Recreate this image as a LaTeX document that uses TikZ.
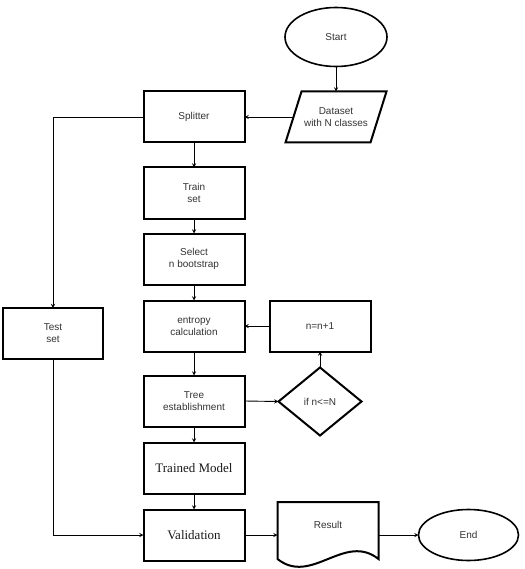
\documentclass[tikz,border=0pt]{standalone}
\usepackage{fontspec}
\setmainfont{Liberation Sans}
\newfontfamily\timesfont{Liberation Serif}
\usetikzlibrary{shapes.geometric, arrows, positioning, calc}

\begin{document}
\begin{tikzpicture}[
    x=1pt, y=1pt,
    node distance=16pt,
    font=\fontsize{10}{12}\selectfont,
    box/.style={rectangle, draw, line width=2pt, text=black!80, align=center, minimum width=101pt, minimum height=51pt, inner sep=0pt, outer sep=0pt},
    serifbox/.style={box, text=black!90, font=\timesfont\fontsize{13}{15}\selectfont},
    term/.style={ellipse, draw, line width=1.6pt, text=black!80, inner sep=0pt, outer sep=0pt},
    decision/.style={diamond, draw, line width=2pt, text=black!80, minimum width=83pt, minimum height=68pt, inner sep=0pt, outer sep=0pt},
    arrow/.style={->, >=stealth, line width=0.9pt}
]
\useasboundingbox (0,0) rectangle (524,-569);

\node[term, minimum width=102pt, minimum height=59pt] (start) at (336,-37) {Start};
\node[box, draw=none, below=25pt of start] (dataset) {Dataset\\with N classes};
\draw[line width=2pt] ($(dataset.north west)+(16,0)$) -- (dataset.north east) -- ($(dataset.south east)+(-16,0)$) -- (dataset.south west) -- cycle;

\node[box, left=41pt of dataset] (splitter) {Splitter};
\node[box, below=25pt of splitter] (train) {Train\\set};
\node[box, below=15pt of train] (select) {Select\\n bootstrap};
\node[box, below=16pt of select] (entropy) {entropy\\calculation};
\node[box, below=24pt of entropy] (tree) {Tree\\establishment};
\node[serifbox, below=16pt of tree] (trained) {Trained Model};
\node[serifbox, below=16pt of trained] (valid) {Validation};

\node[box, right=25pt of entropy] (inc) {n=n+1};
\node[decision, below=16pt of inc] (cond) {if n<=N};
\node[box, minimum width=100pt] (test) at (53,-333.5) {Test\\set};

\node[box, draw=none, minimum height=46pt, right=33pt of valid, yshift=10pt] (result) {Result};
\draw[line width=2pt] ($(result.south west)+(0,-11)$) -- (result.north west) -- (result.north east) -- ($(result.south east)+(0,-11)$)
    .. controls +(-34,27) and +(34,-27) .. ($(result.south west)+(0,-11)$) -- cycle;
\node[term, minimum width=100pt, minimum height=51pt, right=40pt of result, yshift=-10pt] (end) {End};

\draw[arrow] (start) -- (dataset);
\draw[arrow] ($(dataset.west)+(8,0)$) -- (splitter.east);
\draw[arrow] (splitter) -- (train);
\draw[arrow] (train) -- (select);
\draw[arrow] (select) -- (entropy);
\draw[arrow] (entropy) -- (tree);
\draw[arrow] (tree) -- (trained);
\draw[arrow] (trained) -- (valid);
\draw[arrow] (splitter.west) -| (test.north);
\draw[arrow] (test.south) |- (valid.west);
\draw[arrow] (tree.east) -- (cond.west);
\draw[arrow] (cond) -- (inc);
\draw[arrow] (inc) -- (entropy);
\draw[arrow] (valid.east) -- (valid.east -| result.west);
\draw[arrow] (end.west -| result.east) -- (end);

\end{tikzpicture}
\end{document}
